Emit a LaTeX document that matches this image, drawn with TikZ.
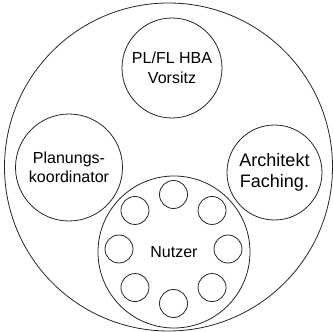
\documentclass[tikz,border=0pt]{standalone}
\usepackage{fontspec}
\setmainfont{Liberation Sans}
\usepackage{tikz}

\begin{document}
\begin{tikzpicture}[x=1pt,y=-1pt,
        group/.style={shape=circle,draw=black!85,line width=0.8pt,inner sep=0pt,align=center,font=\fontsize{16}{19.5}\selectfont},
        member/.style={shape=circle,draw=black!85,line width=0.8pt,inner sep=0pt,minimum size=28pt}]
        \useasboundingbox (0,0) rectangle (333,332);

        % project team
        \node[group,minimum size=328pt] (team) at (168.5,167) {};

        \node[group,minimum size=100pt] (lead) at (172,68) {PL/FL HBA\\Vorsitz};
        \node[group,minimum size=107pt] (coord) at (69,167.5) {Planungs-\\koordinator};
        \node[group,minimum size=95pt,font=\fontsize{18}{21.5}\selectfont] (arch) at (274.5,172.5) {Architekt\\Faching.};
        \node[group,minimum size=152pt] (users) at (174,252) {Nutzer};

        % single users
        \foreach \i in {0,...,7}
            \node[member] (user\i) at ({173.5+54.5*cos(\i*45)},{249+54.5*sin(\i*45)}) {};
    \end{tikzpicture}
\end{document}
